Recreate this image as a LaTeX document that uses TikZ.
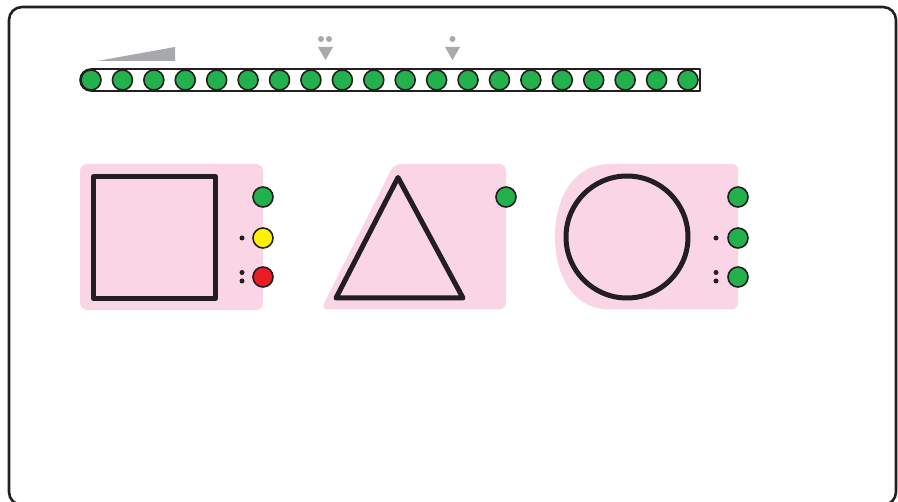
\documentclass[tikz,border=0pt]{standalone}
\begin{document}
\begin{tikzpicture}[x=1pt,y=-1pt,line join=round]
\definecolor{dk}{HTML}{231F20}
\definecolor{gr}{HTML}{22B14C}
\definecolor{ye}{HTML}{FFF200}
\definecolor{rd}{HTML}{ED1C24}
\definecolor{pk}{HTML}{F9D5E5}
\definecolor{gy}{HTML}{A7A9AC}
\tikzset{
  lamp/.style={circle,draw=dk,line width=1.6pt,minimum size=20pt,inner sep=0pt},
  tick/.style={circle,fill=dk,minimum size=5pt,inner sep=0pt},
  gtick/.style={circle,fill=gy,minimum size=6pt,inner sep=0pt},
  panel/.style={fill=pk},
  shapeline/.style={draw=dk,line width=5pt}
}
\useasboundingbox (0,0) rectangle (898,502);
% frame
\draw[dk,line width=2.6pt,rounded corners=13] (9,7) rectangle (896,505);
% belt
\draw[dk,line width=1.6pt,rounded corners=11] (390,69) -- (80,69) -- (80,91) -- (390,91);
\draw[dk,line width=1.6pt] (389,69) -- (700,69) -- (700,91) -- (389,91);
\foreach \i in {0,...,19}{
  \node[lamp,fill=gr] (b\i) at ({91+\i*31.42},80) {};
}
% wedge
\fill[gy] (97,61) -- (175,47) -- (175,61) -- cycle;
% markers
\node[gtick] (m1a) at (321,39) {};
\node[gtick] (m1b) at (329,39) {};
\fill[gy] (318,47) -- (333,47) -- (325.5,60) -- cycle;
\node[gtick] (m2a) at (452.5,39) {};
\fill[gy] (445,47) -- (460,47) -- (452.5,60) -- cycle;
% square panel
\fill[panel,rounded corners=7] (80,164) rectangle (263,310);
\draw[shapeline] (93.5,176.5) rectangle (215.5,298.5);
\node[lamp,fill=gr] (s1) at (263,197) {};
\node[lamp,fill=ye] (s2) at (263,238) {};
\node[lamp,fill=rd] (s3) at (263,277) {};
\node[tick] (sd1) at (242,238) {};
\node[tick] (sd2) at (242,272.5) {};
\node[tick] (sd3) at (242,281) {};
% triangle panel
\fill[panel,rounded corners=7] (321,309.5) -- (394,164) -- (506,164) -- (506,309.5) -- cycle;
\draw[shapeline] (398,177.5) -- (336,298) -- (463,298) -- cycle;
\node[lamp,fill=gr] (t1) at (506,197) {};
% circle panel
\fill[panel] (610,164) .. controls (572,164) and (555,200) .. (555,237)
  .. controls (555,274) and (572,309.5) .. (610,309.5) -- (660,309.5) -- (660,164) -- cycle;
\fill[panel,rounded corners=6] (650,164) -- (738,164) -- (738,309.5) -- (650,309.5) -- cycle;
\draw[dk,line width=5pt] (627,237) circle (61);
\node[lamp,fill=gr] (c1) at (738,197) {};
\node[lamp,fill=gr] (c2) at (738,238) {};
\node[lamp,fill=gr] (c3) at (738,277) {};
\node[tick] (cd1) at (716,238) {};
\node[tick] (cd2) at (716,272.5) {};
\node[tick] (cd3) at (716,281) {};
\end{tikzpicture}
\end{document}
